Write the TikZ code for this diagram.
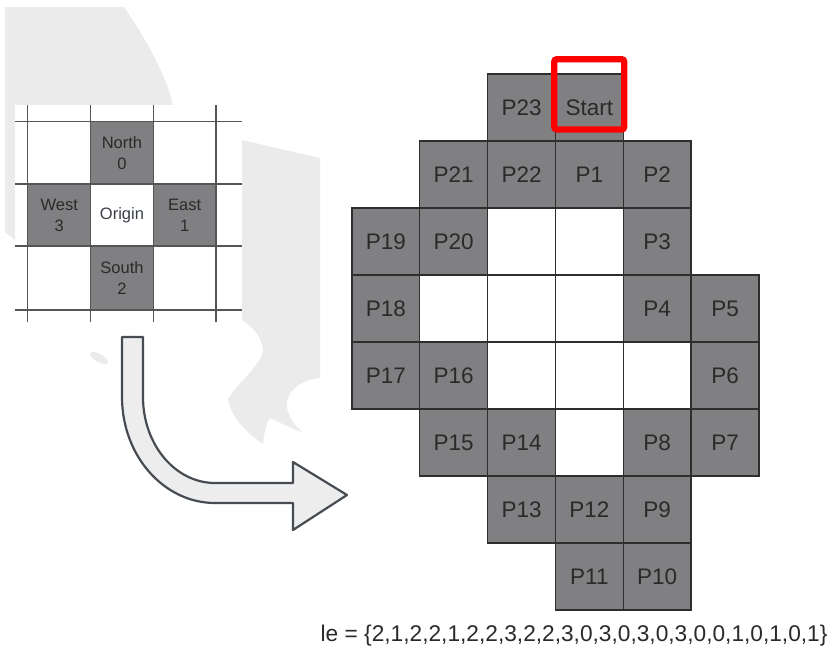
\documentclass[tikz,border=0pt]{standalone}
\usepackage{fontspec}
\setmainfont{Liberation Sans}
\definecolor{cellgray}{HTML}{808083}
\definecolor{celledge}{HTML}{2E2E2E}
\definecolor{txt}{HTML}{2A2A2A}
\definecolor{origintxt}{HTML}{3A3F47}
\definecolor{bggray}{HTML}{EBEBEB}
\definecolor{gridline}{HTML}{555555}
\definecolor{arrowedge}{HTML}{474C53}
\definecolor{arrowfill}{HTML}{EDEDED}
\definecolor{boxred}{HTML}{FF0000}
\begin{document}
\begin{tikzpicture}[x=1pt,y=-1pt,
  pcell/.style={draw=celledge, fill=cellgray, line width=1.3pt, minimum width=67.83pt, minimum height=67pt, inner sep=0pt, text=txt, font=\fontsize{22.5}{27}\selectfont},
  wcell/.style={pcell, fill=white},
  lcell/.style={fill=cellgray, minimum width=63pt, minimum height=62.4pt, inner sep=0pt, text=txt, align=center, font=\fontsize{16.5}{21}\selectfont},
  lgrid/.style={draw=gridline, line width=1.4pt},
  bgshape/.style={fill=bggray, draw=none},
  bigarrow/.style={draw=arrowedge, fill=arrowfill, line width=2.2pt, line join=round},
  redbox/.style={draw=boxred, line width=6.3pt, rounded corners=2.5pt}
]
\useasboundingbox (0,0) rectangle (831,667);
\fill[white] (0,0) rectangle (831,667);
% background watermark shapes
\path[bgshape] (5,7) -- (124,7) .. controls (150,45) and (168,80) .. (174,110) -- (174,200) -- (15,240) -- (5,232) -- cycle;
\path[bgshape] (242,140) -- (320,158) -- (320,378) .. controls (298,380) and (282,395) .. (288,412) .. controls (292,422) and (298,428) .. (302,432) .. controls (290,428) and (275,420) .. (270,418) .. controls (265,425) and (264,435) .. (263,444) .. controls (250,435) and (232,420) .. (228,400) .. controls (235,385) and (262,365) .. (263,350) .. controls (262,335) and (250,325) .. (242,320) -- cycle;
\path[bgshape] (99,358) ellipse [x radius=10pt, y radius=4pt, rotate=-30];
% left compass grid
\fill[white] (15,105) rectangle (242,322);
\node[lcell] (north) at (122,152.9) {North\\0};
\node[lcell] (west) at (59.2,215) {West\\3};
\node[lcell, fill=white, text=origintxt] (origin) at (122,215) {Origin};
\node[lcell] (east) at (184.7,215) {East\\1};
\node[lcell, minimum height=64pt] (south) at (122,278) {South\\2};
\foreach \yy in {121.7,184,246,310} \draw[lgrid] (15,\yy) -- (242,\yy);
\foreach \xx in {27.7,90.7,153.3,216} \draw[lgrid] (\xx,105) -- (\xx,322);
% curved arrow
\draw[bigarrow] (122,337) -- (122,397) .. controls (122,455.5) and (163.6,503) .. (215,503) -- (293,503) -- (293,530) -- (347,495) -- (293,462) -- (293,483) -- (215,483) .. controls (175.2,483) and (143,444.5) .. (143,397) -- (143,337) -- cycle;
% path grid
\node[pcell] (p23) at (521.6,107.5) {P23};
\node[pcell] (start) at (589.4,107.5) {Start};
\node[pcell] (p21) at (453.7,174.5) {P21};
\node[pcell] (p22) at (521.6,174.5) {P22};
\node[pcell] (p1) at (589.4,174.5) {P1};
\node[pcell] (p2) at (657.2,174.5) {P2};
\node[pcell] (p19) at (385.9,241.5) {P19};
\node[pcell] (p20) at (453.7,241.5) {P20};
\node[wcell] (w1) at (521.6,241.5) {};
\node[wcell] (w2) at (589.4,241.5) {};
\node[pcell] (p3) at (657.2,241.5) {P3};
\node[pcell] (p18) at (385.9,308.5) {P18};
\node[wcell] (w3) at (453.7,308.5) {};
\node[wcell] (w4) at (521.6,308.5) {};
\node[wcell] (w5) at (589.4,308.5) {};
\node[pcell] (p4) at (657.2,308.5) {P4};
\node[pcell] (p5) at (725.1,308.5) {P5};
\node[pcell] (p17) at (385.9,375.5) {P17};
\node[pcell] (p16) at (453.7,375.5) {P16};
\node[wcell] (w6) at (521.6,375.5) {};
\node[wcell] (w7) at (589.4,375.5) {};
\node[wcell] (w8) at (657.2,375.5) {};
\node[pcell] (p6) at (725.1,375.5) {P6};
\node[pcell] (p15) at (453.7,442.5) {P15};
\node[pcell] (p14) at (521.6,442.5) {P14};
\node[wcell] (w9) at (589.4,442.5) {};
\node[pcell] (p8) at (657.2,442.5) {P8};
\node[pcell] (p7) at (725.1,442.5) {P7};
\node[pcell] (p13) at (521.6,509.5) {P13};
\node[pcell] (p12) at (589.4,509.5) {P12};
\node[pcell] (p9) at (657.2,509.5) {P9};
\node[pcell] (p11) at (589.4,576.5) {P11};
\node[pcell] (p10) at (657.2,576.5) {P10};
% start marker
\draw[redbox] (554.3,59.2) rectangle (624.2,129.4);
% sequence
\node[anchor=base west, inner sep=0pt, text=txt, font=\fontsize{22.7}{27}\selectfont] (seq) at (320.5,641.7) {le = \{2,1,2,2,1,2,2,3,2,2,3,0,3,0,3,0,3,0,0,1,0,1,0,1\}};
\end{tikzpicture}
\end{document}
